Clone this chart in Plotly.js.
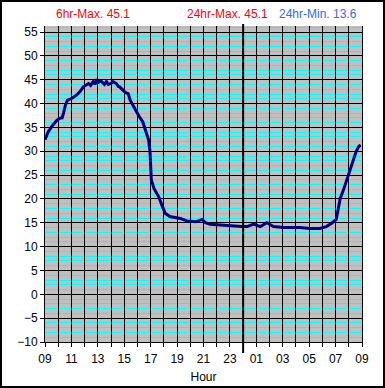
<!DOCTYPE html>
<html>
<head>
<meta charset="utf-8">
<script src="https://cdn.plot.ly/plotly-3.0.1.min.js"></script>
<style>
  html, body { margin: 0; padding: 0; background: #fff; }
  #wrap { position: relative; width: 385px; height: 388px; }
  #chart { width: 385px; height: 388px; }
  #frame { position: absolute; left: 0; top: 0; width: 385px; height: 388px; box-sizing: border-box; border: 2px solid #000; pointer-events: none; }
</style>
</head>
<body>
<div id="wrap"><div id="chart"></div><div id="frame"></div></div>
<script>
// Hours since 00:00 of the first day (9 = 09:00, 33 = 09:00 next day)
const hours = [9.0, 9.25, 9.6, 9.9, 10.1, 10.3, 10.4, 10.55, 10.7, 11.05, 11.4, 11.65, 11.9, 12.1, 12.3, 12.45, 12.65, 12.8, 12.9, 13.0, 13.15, 13.3, 13.5, 13.65, 13.8, 14.0, 14.15, 14.4, 14.55, 14.65, 14.9, 15.1, 15.3, 15.45, 15.65, 15.9, 16.15, 16.4, 16.65, 16.85, 16.95, 17.0, 17.05, 17.25, 17.6, 17.85, 18.1, 18.45, 19.25, 19.75, 20.4, 20.9, 21.15, 21.5, 22.3, 23.05, 23.9, 24.3, 24.8, 25.3, 25.8, 26.3, 27.05, 27.8, 28.3, 29.07, 29.8, 30.3, 30.7, 31.05, 31.2, 31.35, 31.6, 31.85, 32.1, 32.35, 32.55, 32.75, 32.9];
const temps = [32.4, 34.1, 35.5, 36.5, 36.9, 37.0, 38.0, 39.7, 40.7, 41.1, 41.8, 42.5, 43.5, 43.8, 44.2, 43.8, 44.6, 44.0, 45.1, 44.3, 44.8, 44.6, 44.0, 44.6, 44.0, 44.2, 44.6, 44.2, 43.6, 43.5, 42.8, 42.3, 42.1, 40.7, 39.7, 38.3, 37.2, 36.2, 34.1, 32.3, 29.9, 26.8, 24.0, 22.2, 20.5, 18.7, 17.0, 16.3, 15.9, 15.4, 15.2, 15.7, 15.0, 14.7, 14.5, 14.3, 14.2, 14.2, 14.7, 14.2, 15.0, 14.2, 14.0, 14.0, 14.0, 13.8, 13.8, 14.2, 14.9, 15.7, 17.7, 20.1, 21.9, 24.0, 26.4, 28.2, 29.9, 31.0, 31.3];

const xTickVals = [9,10,11,12,13,14,15,16,17,18,19,20,21,22,23,24,25,26,27,28,29,30,31,32,33];
const xTickText = ["09","","11","","13","","15","","17","","19","","21","","23","","01","","03","","05","","07","","09"];

const titleTexts = ["6hr-Max. 45.1", "24hr-Max. 45.1", "24hr-Min. 13.6"];
const midnight = 24;

const trace = {
  x: hours, y: temps, type: 'scatter', mode: 'lines',
  line: { color: '#000080', width: 3 },
  hoverinfo: 'skip'
};

const font = { family: 'Liberation Sans, Arial, sans-serif', size: 12, color: '#000' };

const layout = {
  width: 385, height: 388,
  margin: { l: 45, r: 23, t: 26, b: 46 },
  paper_bgcolor: '#ffffff',
  plot_bgcolor: '#c0c0c0',
  showlegend: false,
  font: font,
  xaxis: {
    range: [9, 33],
    tickmode: 'array', tickvals: xTickVals, ticktext: xTickText,
    showgrid: true, gridcolor: '#000000', gridwidth: 1,
    showline: true, linecolor: '#000', linewidth: 1,
    ticks: 'outside', ticklen: 4, tickcolor: '#000',
    ticklabelstandoff: 2,
    zeroline: false,
    tickfont: font,
    title: { text: 'Hour', font: font, standoff: 7 }
  },
  yaxis: {
    range: [-10, 56.26],
    tickmode: 'linear', tick0: -10, dtick: 5,
    showgrid: true, gridcolor: '#000000', gridwidth: 1,
    showline: true, linecolor: '#000', linewidth: 1, mirror: true,
    ticks: 'outside', ticklen: 4, tickcolor: '#000',
    zeroline: false,
    tickfont: font,
    minor: { dtick: 1, tick0: 0, showgrid: true, gridcolor: '#00ffff', gridwidth: 1, ticks: '' }
  },
  shapes: [{
    type: 'line', xref: 'x', yref: 'paper',
    x0: midnight, x1: midnight, y0: -0.035, y1: 1.006,
    line: { color: '#000', width: 2 }
  }],
  annotations: [
    { text: titleTexts[0], xref: 'paper', yref: 'paper', x: 0.028, y: 1.037, xanchor: 'left', yanchor: 'middle', showarrow: false, font: { family: font.family, size: 12, color: '#ff0000' } },
    { text: titleTexts[1], xref: 'paper', yref: 'paper', x: 0.576, y: 1.037, xanchor: 'center', yanchor: 'middle', showarrow: false, font: { family: font.family, size: 12, color: '#ff0000' } },
    { text: titleTexts[2], xref: 'paper', yref: 'paper', x: 0.99, y: 1.037, xanchor: 'right', yanchor: 'middle', showarrow: false, font: { family: font.family, size: 12, color: '#3366ff' } }
  ]
};

Plotly.newPlot('chart', [trace], layout, { staticPlot: true, displayModeBar: false });
</script>
</body>
</html>
